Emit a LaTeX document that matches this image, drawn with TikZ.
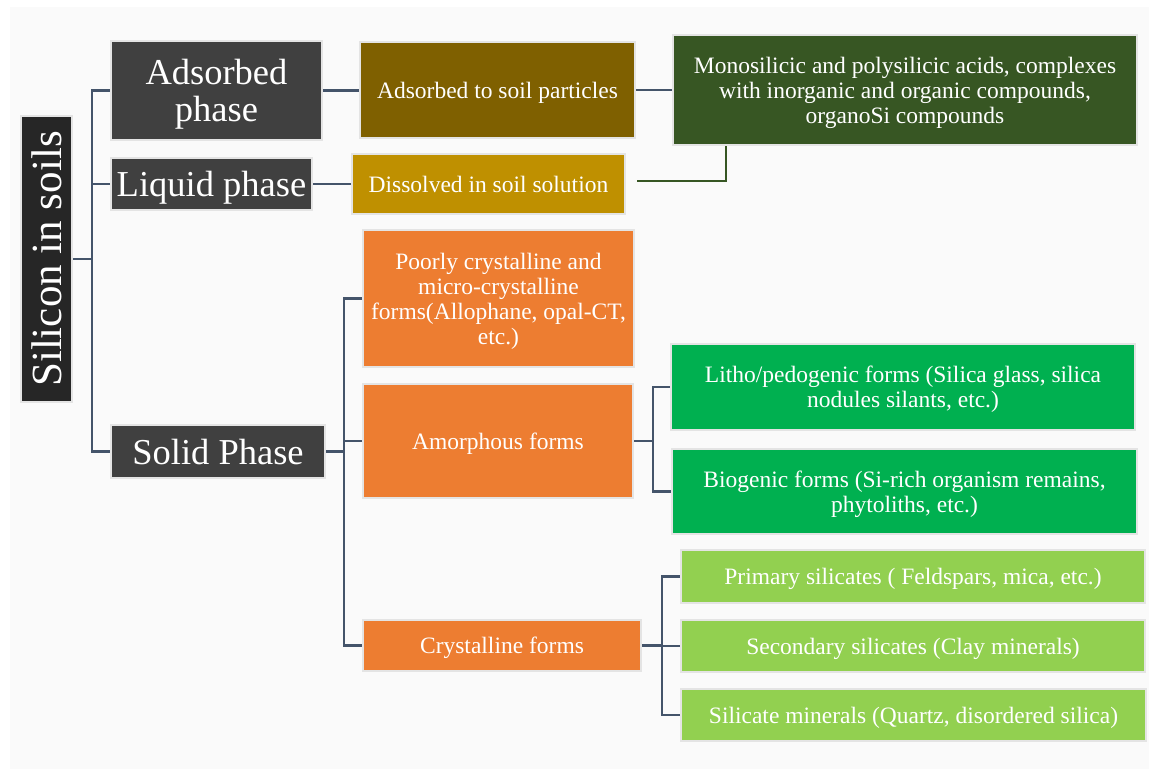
\documentclass[tikz,border=0pt]{standalone}
\usepackage{fontspec}
\setmainfont{Liberation Serif}
\definecolor{bgc}{HTML}{FAFAFA}
\definecolor{dark}{HTML}{404040}
\definecolor{darker}{HTML}{262626}
\definecolor{brownc}{HTML}{7F6000}
\definecolor{goldc}{HTML}{BF9000}
\definecolor{olivec}{HTML}{375623}
\definecolor{orangec}{HTML}{ED7D31}
\definecolor{greenc}{HTML}{00B050}
\definecolor{limec}{HTML}{92D050}
\definecolor{edgec}{HTML}{E4E4E4}
\definecolor{linec}{HTML}{44546A}
\tikzset{
  box/.style={draw=edgec, line width=2.5pt, inner sep=0pt, text=white, align=center, text depth=0pt},
  bigtxt/.style={font=\fontsize{36.5}{37}\selectfont},
  hugetxt/.style={font=\fontsize{43}{44}\selectfont},
  smalltxt/.style={font=\fontsize{23.5}{25}\selectfont},
  conn/.style={draw=linec, line width=2.5pt},
  gconn/.style={draw=olivec, line width=2.5pt}
}
\begin{document}
\begin{tikzpicture}[x=1pt,y=-1pt]
\useasboundingbox (0,0) rectangle (1149,769);
\fill[white] (0,0) rectangle (1149,769);
\fill[bgc] (10,7) rectangle (1149,769);

% level 0
\node[box, hugetxt, fill=darker, rotate=90, minimum width=286, minimum height=51] (sis) at (46.5,259) {Silicon in soils};

% level 1
\node[box, bigtxt, fill=dark, minimum width=211, minimum height=99] (ads) at (216.5,90.5) {Adsorbed\\phase};
\node[box, bigtxt, fill=dark, minimum width=201, minimum height=52] (liq) at (211.5,184) {Liquid phase};
\node[box, bigtxt, fill=dark, minimum width=214, minimum height=53] (sol) at (218,451.5) {Solid Phase};

% level 2
\node[box, smalltxt, fill=brownc, minimum width=275, minimum height=96] (atsp) at (497.5,90) {Adsorbed to soil particles};
\node[box, smalltxt, fill=goldc, minimum width=273, minimum height=60] (dis) at (488.5,184) {Dissolved in soil solution};
\node[box, smalltxt, fill=orangec, minimum width=271, minimum height=137] (poor) at (498.5,298.5) {Poorly crystalline and\\micro-crystalline\\forms(Allophane, opal-CT,\\etc.)};
\node[box, smalltxt, fill=orangec, minimum width=270, minimum height=114] (amor) at (498,441) {Amorphous forms};
\node[box, smalltxt, fill=orangec, minimum width=278, minimum height=51] (cry) at (502,645.5) {Crystalline forms};

% level 3
\node[box, smalltxt, fill=olivec, minimum width=464, minimum height=110] (mono) at (905,90) {Monosilicic and polysilicic acids, complexes\\with inorganic and organic compounds,\\organoSi compounds};
\node[box, smalltxt, fill=greenc, minimum width=464, minimum height=86] (lit) at (903,387) {Litho/pedogenic forms (Silica glass, silica\\nodules silants, etc.)};
\node[box, smalltxt, fill=greenc, minimum width=465, minimum height=85] (bio) at (904.5,491.5) {Biogenic forms (Si-rich organism remains,\\phytoliths, etc.)};
\node[box, smalltxt, fill=limec, minimum width=464, minimum height=53] (pri) at (913,576.5) {Primary silicates ( Feldspars, mica, etc.)};
\node[box, smalltxt, fill=limec, minimum width=464, minimum height=52] (sec) at (913,646) {Secondary silicates (Clay minerals)};
\node[box, smalltxt, fill=limec, minimum width=465, minimum height=52] (silm) at (913.5,715) {Silicate minerals (Quartz, disordered silica)};

% trunk coordinates
\coordinate (t1) at (92,0);
\coordinate (t2) at (344,0);
\coordinate (t3) at (653,0);
\coordinate (t4) at (662,0);
\coordinate (g1) at (637,181);
\coordinate (gk) at (726,0);

% connectors
\draw[conn] (sis.south) -- (sis.south -| t1);
\draw[conn] (ads.west) -- (ads.west -| t1) -- (sol.west -| t1) -- (sol.west);
\draw[conn] (liq.west) -- (liq.west -| t1);

\draw[conn] (ads.east) -- (ads.east -| atsp.west);
\draw[conn] (liq.east) -- (liq.east -| dis.west);
\draw[conn] (atsp.east) -- (atsp.east -| mono.west);
\draw[gconn] (g1) -| (gk |- mono.south);

\draw[conn] (sol.east) -- (sol.east -| t2);
\draw[conn] (poor.west) -- (poor.west -| t2) -- (cry.west -| t2) -- (cry.west);
\draw[conn] (amor.west) -- (amor.west -| t2);

\draw[conn] (amor.east) -- (amor.east -| t3);
\draw[conn] (lit.west) -- (lit.west -| t3) -- (bio.west -| t3) -- (bio.west);

\draw[conn] (cry.east) -- (cry.east -| t4);
\draw[conn] (pri.west) -- (pri.west -| t4) -- (silm.west -| t4) -- (silm.west);
\draw[conn] (sec.west) -- (sec.west -| t4);
\end{tikzpicture}
\end{document}
